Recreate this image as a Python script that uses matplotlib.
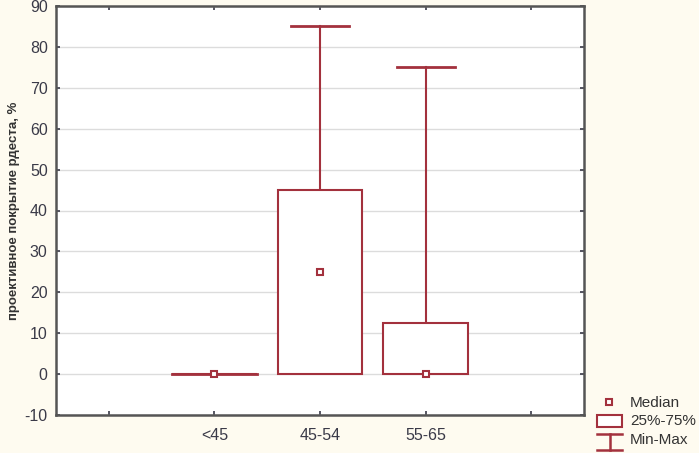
import matplotlib
matplotlib.use("Agg")
import matplotlib.pyplot as plt
from matplotlib.patches import Rectangle
from matplotlib.lines import Line2D

categories = ["<45", "45-54", "55-65"]
minimum = [0, 0, 0]
q1 = [0, 0, 0]
median = [0, 25, 0]
q3 = [0, 45, 12.5]
maximum = [0, 85, 75]
yticks = list(range(-10, 91, 10))

red = "#a3313d"
bg = "#fefbf0"
plt.rcParams["font.family"] = ["Liberation Sans", "DejaVu Sans"]
plt.rcParams["axes.unicode_minus"] = False

fig = plt.figure(figsize=(6.99, 4.53), dpi=100, facecolor=bg)
ax = fig.add_axes([56/699, 1-415/453, (584-56)/699, (415-6)/453])
ax.set_facecolor("white")

box_w = 0.8
cap_w = 0.55
for i in range(len(categories)):
    ax.plot([i, i], [q3[i], maximum[i]], color=red, lw=1.5, zorder=3)
    ax.plot([i, i], [minimum[i], q1[i]], color=red, lw=1.5, zorder=3)
    if maximum[i] > q3[i]:
        ax.plot([i - cap_w/2, i + cap_w/2], [maximum[i]]*2, color=red, lw=2, zorder=3)
    if minimum[i] < q1[i]:
        ax.plot([i - cap_w/2, i + cap_w/2], [minimum[i]]*2, color=red, lw=2, zorder=3)
    ax.add_patch(Rectangle((i - box_w/2, q1[i]), box_w, q3[i] - q1[i],
                           facecolor="white", edgecolor=red, lw=1.5, zorder=4))
    if q3[i] == q1[i]:
        ax.plot([i - box_w/2, i + box_w/2], [q1[i]]*2, color=red, lw=2, zorder=4)
    ax.plot(i, median[i], marker="s", ms=5, mfc="white", mec=red, mew=1.5, zorder=5)

ax.set_xlim(-1.5, 3.5)
ax.set_ylim(-10, 90)
ax.set_xticks([-1, 0, 1, 2, 3])
ax.set_xticklabels([""] + categories + [""])
ax.set_yticks(yticks)
ax.yaxis.grid(True, color="#dcdcdc", lw=1)
ax.set_axisbelow(True)
ax.tick_params(direction="in", length=3, width=1.2, colors="#3a3a48",
               labelsize=11.5, top=True, right=True, pad=6)
ax.tick_params(axis="x", pad=9)
for s in ax.spines.values():
    s.set_color("#555555")
    s.set_linewidth(1.8)
ax.set_ylabel("проективное покрытие рдеста, %", fontsize=9.5, fontweight="bold",
              color="#333333")
ax.yaxis.set_label_coords(-36/528, 0.5)

def px(x, y):
    return (x/699, 1 - y/453)

fs = 11
fig.add_artist(Line2D([609/699], [1-402/453], marker="s", ms=5,
                      mfc="white", mec=red, mew=1.5, transform=fig.transFigure))
fig.text(*px(630, 403), "Median", fontsize=fs, color="#333333", va="center")
x0, y0 = px(597, 427)
x1, y1 = px(622, 415)
fig.add_artist(Rectangle((x0, y0), x1 - x0, y1 - y0, facecolor="white",
                         edgecolor=red, lw=1.5, transform=fig.transFigure))
fig.text(*px(630, 421), "25%-75%", fontsize=fs, color="#333333", va="center")
for (xa, ya, xb, yb) in [(597, 434, 622, 434), (609.5, 434, 609.5, 450), (597, 450, 622, 450)]:
    fig.add_artist(Line2D([xa/699, xb/699], [1-ya/453, 1-yb/453], color=red, lw=1.8,
                          transform=fig.transFigure))
fig.text(*px(630, 440), "Min-Max", fontsize=fs, color="#333333", va="center")

fig.savefig("out.png", dpi=100, facecolor=bg)
